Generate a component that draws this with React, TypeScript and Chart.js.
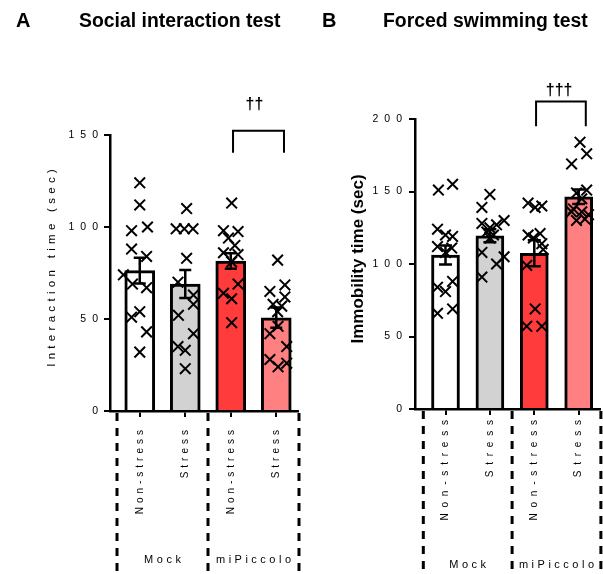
import React, { useEffect, useRef } from "react";
import { Chart, registerables } from "chart.js";
Chart.register(...registerables);

// ---------- data ----------
const categories = ["Non-stress", "Stress", "Non-stress", "Stress"];
const groupLabels = ["Mock", "miPiccolo"];
const groupBounds = [-0.5, 1.5, 3.5];
const barColors = ["#ffffff", "#d2d2d2", "#ff3b3b", "#ff8080"];

// Panel A: Social interaction test
const socialMeans = [76.3, 69, 81.5, 50.7];
const socialSem = [7, 7.6, 4.2, 5.5];
const socialPoints = [
  [124, 112, 98, 100, 88, 84, 74, 69, 67, 54, 51, 43, 32],
  [110, 99, 99, 99, 83, 70, 63, 58, 52, 42, 35, 33, 23],
  [113, 98, 97.5, 94, 90, 86, 85, 81, 69, 64, 61, 48],
  [82, 68.5, 65, 62, 58, 57, 54, 46, 42, 35, 28, 26, 24],
];
const socialJitter = [
  [0, 0, -0.18, 0.17, -0.18, 0.15, -0.36, -0.16, 0.15, 0, -0.18, 0.15, 0],
  [0.03, -0.2, -0.02, 0.17, 0.03, -0.16, 0.18, 0.18, -0.15, 0.18, -0.16, 0, 0],
  [0.02, -0.16, 0.16, -0.05, 0.09, -0.16, 0.16, 0.02, 0.16, -0.16, 0.02, 0.02],
  [0.03, 0.19, -0.14, 0.19, -0.07, 0.12, 0.03, 0.04, -0.14, 0.23, -0.14, 0.23, 0.04],
];
const socialTicks = [0, 50, 100, 150];
const socialBracket = [2.05, 3.17, 152.3, 140.4]; // x1, x2, top, leg end
const socialMark = "††";
const socialMarkPos = [2.52, 164];

// Panel B: Forced swimming test
const swimMeans = [106.2, 119.5, 107.4, 146.4];
const swimSem = [6.5, 4.5, 9, 5];
const swimPoints = [
  [151, 155, 124, 120, 119, 112, 111, 108, 88, 84, 81, 69, 66],
  [148, 139, 128, 125, 127, 130, 122, 120, 118, 108, 100, 105, 91],
  [142, 140, 139, 120, 121, 118, 114, 110, 99, 69, 57, 57],
  [184, 176, 169, 151, 149, 145, 138, 136, 134, 130, 136, 131],
];
const swimJitter = [
  [-0.16, 0.16, -0.18, 0, 0.16, -0.18, 0.14, 0, 0.16, -0.18, 0, 0.16, -0.18],
  [0, -0.18, -0.18, 0, 0.15, 0.32, -0.07, 0.08, 0, -0.18, 0.15, 0.32, -0.18],
  [-0.14, 0.17, 0.02, -0.14, 0.13, -0.02, 0.17, 0.2, -0.17, 0.02, -0.17, 0.17],
  [0.03, 0.18, -0.16, 0.18, -0.05, 0.07, -0.12, 0.07, 0.22, -0.05, -0.16, 0.14],
];
const swimTicks = [0, 50, 100, 150, 200];
const swimBracket = [2.04, 3.16, 212, 195];
const swimMark = "†††";
const swimMarkPos = [2.56, 216.5];

// ---------- rendering ----------
const W = 603;
const H = 574;
const FONT = "'Liberation Sans', Arial, Helvetica, sans-serif";

type Panel = {
  letter: string;
  title: string;
  yTitle: string;
  means: number[];
  sem: number[];
  points: number[][];
  jitter: number[][];
  ticks: number[];
  bracket: number[];
  mark: string;
  markPos: number[];
  st: any;
};

function setLs(ctx: any, v: number) {
  try {
    ctx.letterSpacing = v + "px";
  } catch (e) {}
}

function makeChart(canvas: HTMLCanvasElement, p: Panel) {
  const st = p.st;
  const decor = {
    id: "decor",
    afterDatasetDraw(chart: any, args: any) {
      if (args.index !== 1) return;
      const ctx = chart.ctx;
      const xs = chart.scales.x;
      const ys = chart.scales.y;
      ctx.save();
      ctx.strokeStyle = "#000";
      ctx.lineWidth = 2.5;
      p.means.forEach((m, i) => {
        const px = xs.getPixelForValue(i);
        const t = ys.getPixelForValue(m + p.sem[i]);
        const b = ys.getPixelForValue(m - p.sem[i]);
        ctx.beginPath();
        ctx.moveTo(px, t);
        ctx.lineTo(px, b);
        ctx.moveTo(px - st.cap, t);
        ctx.lineTo(px + st.cap, t);
        ctx.moveTo(px - st.cap, b);
        ctx.lineTo(px + st.cap, b);
        ctx.stroke();
      });
      ctx.restore();
    },
    afterDraw(chart: any) {
      const ctx = chart.ctx;
      const xs = chart.scales.x;
      const ys = chart.scales.y;
      const area = chart.chartArea;
      ctx.save();
      ctx.fillStyle = "#000";
      ctx.strokeStyle = "#000";

      // panel titles
      setLs(ctx, 0);
      ctx.textAlign = "left";
      ctx.textBaseline = "alphabetic";
      ctx.font = `bold ${st.letterSize}px ${FONT}`;
      ctx.fillText(p.letter, st.letterX, st.titleBase);
      ctx.font = `bold ${st.titleSize}px ${FONT}`;
      ctx.fillText(p.title, st.titleX, st.titleBase);

      // y tick labels
      ctx.font = `${st.tickSize}px ${FONT}`;
      setLs(ctx, st.tickLs);
      ctx.textAlign = "right";
      ctx.textBaseline = "middle";
      ys.ticks.forEach((t: any) => {
        const py = ys.getPixelForValue(t.value);
        ctx.fillText(String(t.value), area.left - st.tickGap + st.tickLs, py);
      });

      // y title
      ctx.save();
      ctx.translate(st.yTitleX, (area.top + area.bottom) / 2 + st.yTitleDy);
      ctx.rotate(-Math.PI / 2);
      ctx.font = st.yTitleFont;
      setLs(ctx, st.yTitleLs);
      ctx.textAlign = "center";
      ctx.textBaseline = "middle";
      ctx.fillText(p.yTitle, st.yTitleLs / 2, 0);
      ctx.restore();

      // category labels
      ctx.font = `${st.catSize}px ${FONT}`;
      setLs(ctx, st.catLs);
      categories.forEach((c, i) => {
        const px = xs.getPixelForValue(i);
        ctx.save();
        ctx.translate(px, area.bottom + st.catGap);
        ctx.rotate(-Math.PI / 2);
        ctx.textAlign = "right";
        ctx.textBaseline = "middle";
        ctx.fillText(c, st.catLs, 0);
        ctx.restore();
      });

      // dashed group separators
      ctx.save();
      ctx.lineWidth = 3;
      ctx.setLineDash([8, 7]);
      groupBounds.forEach((b) => {
        const px = xs.getPixelForValue(b);
        ctx.beginPath();
        ctx.moveTo(px, area.bottom + 2);
        ctx.lineTo(px, H);
        ctx.stroke();
      });
      ctx.restore();

      // group labels
      ctx.font = `${st.groupSize}px ${FONT}`;
      setLs(ctx, st.groupLs);
      ctx.textAlign = "center";
      ctx.textBaseline = "alphabetic";
      groupLabels.forEach((g, i) => {
        const a = xs.getPixelForValue(groupBounds[i]);
        const b = xs.getPixelForValue(groupBounds[i + 1]);
        ctx.fillText(g, (a + b) / 2 + st.groupLs / 2, st.groupBase);
      });

      // significance bracket
      const [b1, b2, bt, bl] = p.bracket;
      const x1 = xs.getPixelForValue(b1);
      const x2 = xs.getPixelForValue(b2);
      const yt = ys.getPixelForValue(bt);
      const yl = ys.getPixelForValue(bl);
      ctx.lineWidth = 2;
      ctx.setLineDash([]);
      ctx.beginPath();
      ctx.moveTo(x1, yl);
      ctx.lineTo(x1, yt);
      ctx.lineTo(x2, yt);
      ctx.lineTo(x2, yl);
      ctx.stroke();
      setLs(ctx, 0);
      ctx.font = `bold ${st.markSize}px ${FONT}`;
      ctx.textAlign = "center";
      ctx.textBaseline = "alphabetic";
      ctx.fillText(p.mark, xs.getPixelForValue(p.markPos[0]), ys.getPixelForValue(p.markPos[1]));
      ctx.restore();
    },
  };

  const scatterData = p.points
    .map((arr, i) => arr.map((v, j) => ({ x: i + p.jitter[i][j], y: v })))
    .flat();
  const barData = p.means.map((m, i) => ({ x: i, y: m }));

  return new Chart(canvas, {
    type: "bar",
    data: {
      datasets: [
        {
          type: "scatter",
          data: scatterData,
          order: 0,
          pointStyle: "crossRot",
          pointRadius: st.markerR,
          pointHoverRadius: st.markerR,
          pointBorderWidth: 2,
          pointBorderColor: "#000",
          pointBackgroundColor: "rgba(0,0,0,0)",
          showLine: false,
        } as any,
        {
          type: "bar",
          data: barData,
          order: 1,
          backgroundColor: barColors,
          borderColor: "#000",
          borderWidth: 3,
          barThickness: st.barW,
        } as any,
      ],
    },
    options: {
      responsive: false,
      animation: false,
      events: [],
      layout: { padding: st.padding, autoPadding: false },
      plugins: { legend: { display: false }, tooltip: { enabled: false }, title: { display: false } },
      scales: {
        x: {
          type: "linear",
          min: st.xMin,
          max: st.xMax,
          bounds: "data",
          offset: false,
          afterBuildTicks: (s: any) => {
            s.ticks = categories.map((_, i) => ({ value: i }));
          },
          afterFit: (s: any) => {
            s.height = 10;
          },
          ticks: { display: false },
          grid: { offset: false, drawOnChartArea: false, drawTicks: true, tickLength: 6, color: "#000", lineWidth: 2 },
          border: { display: true, color: "#000", width: 2.5 },
        },
        y: {
          type: "linear",
          min: 0,
          max: p.ticks[p.ticks.length - 1],
          offset: false,
          afterBuildTicks: (s: any) => {
            s.ticks = p.ticks.map((v) => ({ value: v }));
          },
          afterFit: (s: any) => {
            s.width = 10;
          },
          ticks: { display: false },
          grid: { offset: false, drawOnChartArea: false, drawTicks: true, tickLength: 6, color: "#000", lineWidth: 2 },
          border: { display: true, color: "#000", width: 2.5 },
        },
      },
    } as any,
    plugins: [decor],
  });
}

const panelA: Panel = {
  letter: "A",
  title: "Social interaction test",
  yTitle: "Interaction time (sec)",
  means: socialMeans,
  sem: socialSem,
  points: socialPoints,
  jitter: socialJitter,
  ticks: socialTicks,
  bracket: socialBracket,
  mark: socialMark,
  markPos: socialMarkPos,
  st: {
    padding: { left: 100, top: 135, right: W - 298, bottom: H - 411 - 10 },
    xMin: -0.654,
    xMax: 3.478,
    barW: 30,
    cap: 6,
    markerR: 7.5,
    letterSize: 20,
    letterX: 16,
    titleSize: 19.4,
    titleX: 79,
    titleBase: 27,
    tickSize: 10.5,
    tickLs: 6,
    tickGap: 12,
    yTitleX: 52,
    yTitleDy: -5,
    yTitleFont: `11.5px ${FONT}`,
    yTitleLs: 4.3,
    catSize: 10,
    catLs: 4,
    catGap: 19,
    groupSize: 11,
    groupLs: 3.5,
    groupBase: 563,
    markSize: 16,
  },
};

const panelB: Panel = {
  letter: "B",
  title: "Forced swimming test",
  yTitle: "Immobility time (sec)",
  means: swimMeans,
  sem: swimSem,
  points: swimPoints,
  jitter: swimJitter,
  ticks: swimTicks,
  bracket: swimBracket,
  mark: swimMark,
  markPos: swimMarkPos,
  st: {
    padding: { left: 405, top: 119, right: 3, bottom: H - 409 - 10 },
    xMin: -0.687,
    xMax: 3.48,
    barW: 28,
    cap: 6.5,
    markerR: 7.5,
    letterSize: 20,
    letterX: 322,
    titleSize: 19.4,
    titleX: 383,
    titleBase: 27,
    tickSize: 10.5,
    tickLs: 6,
    tickGap: 13,
    yTitleX: 358,
    yTitleDy: -5,
    yTitleFont: `bold 17px ${FONT}`,
    yTitleLs: 0,
    catSize: 10,
    catLs: 5.8,
    catGap: 11,
    groupSize: 11,
    groupLs: 3.5,
    groupBase: 568,
    markSize: 16,
  },
};

export default function App() {
  const refA = useRef<HTMLCanvasElement>(null);
  const refB = useRef<HTMLCanvasElement>(null);
  useEffect(() => {
    const a = makeChart(refA.current as HTMLCanvasElement, panelA);
    const b = makeChart(refB.current as HTMLCanvasElement, panelB);
    return () => {
      a.destroy();
      b.destroy();
    };
  }, []);
  const cs: React.CSSProperties = { position: "absolute", left: 0, top: 0, width: W, height: H };
  return (
    <div style={{ position: "absolute", left: 0, top: 0, width: W, height: H, background: "#fff" }}>
      <canvas ref={refA} width={W} height={H} style={cs} />
      <canvas ref={refB} width={W} height={H} style={cs} />
    </div>
  );
}
